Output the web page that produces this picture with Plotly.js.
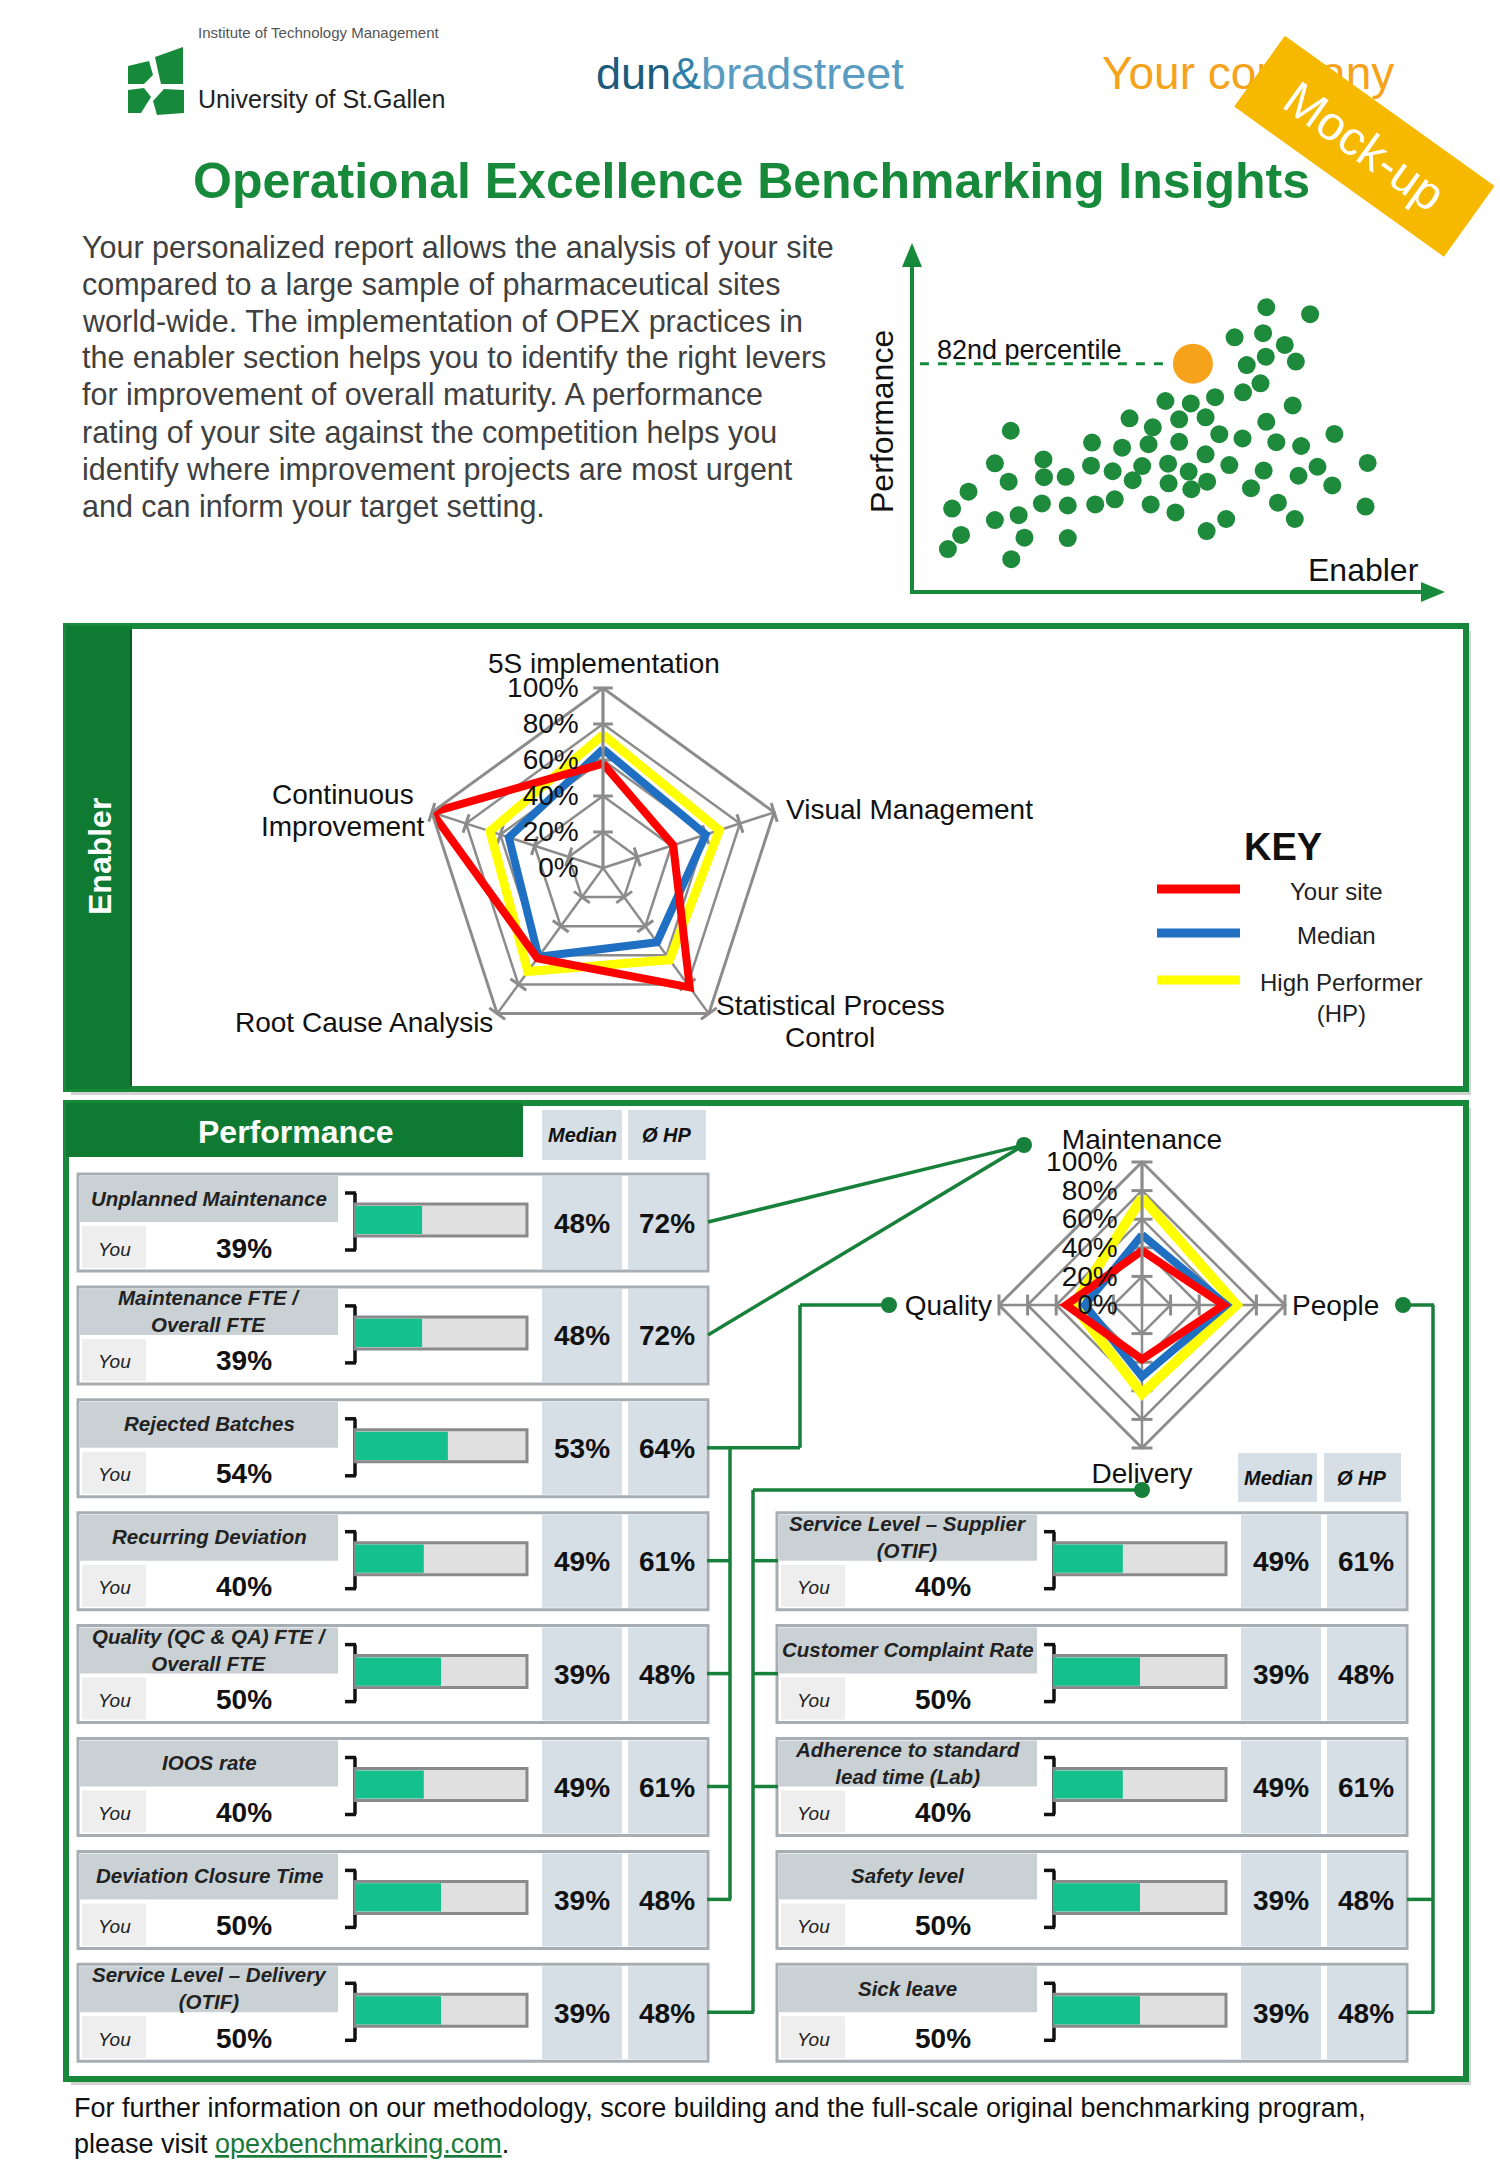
<!DOCTYPE html>
<html><head><meta charset="utf-8">
<script src="https://cdn.plot.ly/plotly-3.0.1.min.js"></script>
<style>html,body{margin:0;padding:0;background:#fff}#chart{width:1500px;height:2167px}</style>
</head><body><div id="chart"></div>
<script>
// ================= DATA =================
const introLines = [
  'Your personalized report allows the analysis of your site',
  'compared to a large sample of pharmaceutical sites',
  'world-wide. The implementation of OPEX practices in',
  'the enabler section helps you to identify the right levers',
  'for improvement of overall maturity. A performance',
  'rating of your site against the competition helps you',
  'identify where improvement projects are most urgent',
  'and can inform your target setting.'
];
// scatter: sites (enabler score vs performance score, 0-100)
const enablerScore = [67.1,75.4,61.1,66.5,70.6,63.4,67.0,72.7,62.7,66.0,48.0,52.8,57.4,72.1,41.2,50.6,55.6,45.6,67.1,18.7,80.0,34.1,39.8,44.8,50.6,58.2,62.6,69.0,73.7,15.7,24.9,55.6,33.9,43.6,48.5,60.1,76.8,86.3,18.3,25.0,29.1,38.0,41.8,52.4,66.6,73.2,10.7,48.6,55.9,52.9,64.2,79.6,7.6,24.6,29.5,34.7,38.4,45.2,69.3,85.9,15.7,20.2,49.9,59.5,72.5,9.3,21.3,29.5,55.8,6.8,18.8];
const performanceScore = [82.3,80.3,73.6,74.8,71.4,65.6,68.0,66.6,57.7,60.3,55.2,54.5,56.3,53.9,50.2,49.9,50.5,47.6,49.2,46.6,45.7,43.2,41.7,42.7,43.4,45.6,44.4,43.3,42.2,37.2,38.3,39.8,36.5,36.4,37.1,36.7,36.2,37.3,31.9,33.2,33.3,34.9,32.3,34.8,35.1,33.6,29.0,31.4,31.9,29.7,30.0,30.8,24.1,25.6,25.0,25.3,26.8,25.3,25.8,24.7,20.8,22.2,23.0,21.1,21.1,16.5,15.7,15.6,17.6,12.4,9.5];
const yourSiteEnabler = [53.2];
const yourSitePerformance = [66.0];
const percentileLabel = '82nd percentile';

// enabler radar
const enablerCategories = ['5S implementation','Visual Management','Statistical Process<br>Control','Root Cause Analysis','Continuous<br>Improvement'];
const enablerYourSite = [58, 41, 82, 62, 100];
const enablerMedian = [66, 60, 51, 61, 55];
const enablerHighPerformer = [74, 68, 63, 71, 66];

// performance radar
const perfCategories = ['Maintenance','People','Delivery','Quality'];
const perfYourSite = [38, 57, 38, 53];
const perfMedian = [49, 59, 50, 40];
const perfHighPerformer = [75, 66, 62, 48];

const radialTickVals = [0, 20, 40, 60, 80, 100];
const radialTickText = ['0%','20%','40%','60%','80%','100%'];
const seriesNames = ['Your site','Median','High Performer<br>(HP)'];

// KPI tables
const leftKpis = ['Unplanned Maintenance','Maintenance FTE /<br>Overall FTE','Rejected Batches','Recurring Deviation','Quality (QC & QA) FTE /<br>Overall FTE','IOOS rate','Deviation Closure Time','Service Level – Delivery<br>(OTIF)'];
const leftYou    = [39, 39, 54, 40, 50, 40, 50, 50];
const leftMedian = [48, 48, 53, 49, 39, 49, 39, 39];
const leftHP     = [72, 72, 64, 61, 48, 61, 48, 48];
const rightKpis = ['Service Level – Supplier<br>(OTIF)','Customer Complaint Rate','Adherence to standard<br>lead time (Lab)','Safety level','Sick leave'];
const rightYou    = [40, 50, 40, 50, 50];
const rightMedian = [49, 39, 49, 39, 39];
const rightHP     = [61, 48, 61, 48, 48];

// ================= STYLE / LAYOUT HELPERS =================
const W = 1500, H = 2167;
const X = p => p / W, Y = p => 1 - p / H;
const FONT = 'Liberation Sans, Arial, sans-serif';
const GREEN = '#168a3a', DGREEN = '#0f7a32', CONN = '#17803a';
const RED = '#ff0000', BLUE = '#1f6fc2', YEL = '#ffff00';
const GRID = '#8c8c8c';
const shapes = [], annotations = [];

function rect(x0,y0,x1,y1,fill,lc,lw,layer){
  shapes.push({type:'rect',xref:'paper',yref:'paper',x0:X(x0),x1:X(x1),y0:Y(y1),y1:Y(y0),
    fillcolor:fill||'rgba(0,0,0,0)',line:{color:lc||'rgba(0,0,0,0)',width:lw||0},layer:layer||'below'});
}
function line(x0,y0,x1,y1,c,w,dash,layer){
  shapes.push({type:'line',xref:'paper',yref:'paper',x0:X(x0),x1:X(x1),y0:Y(y0),y1:Y(y1),
    line:{color:c,width:w,dash:dash||'solid'},layer:layer||'below'});
}
function dot(cx,cy,r,c){
  shapes.push({type:'circle',xref:'paper',yref:'paper',x0:X(cx-r),x1:X(cx+r),y0:Y(cy+r),y1:Y(cy-r),
    fillcolor:c,line:{width:0},layer:'above'});
}
function poly(pts,fill,layer){
  let d = pts.map((p,i)=>(i?'L':'M')+X(p[0]).toFixed(5)+','+Y(p[1]).toFixed(5)).join(' ')+' Z';
  shapes.push({type:'path',xref:'paper',yref:'paper',path:d,fillcolor:fill,line:{width:0},layer:layer||'below'});
}
function txt(t,x,y,size,o){
  o = o||{};
  annotations.push(Object.assign({text:t,xref:'paper',yref:'paper',x:X(x),y:Y(y),showarrow:false,
    xanchor:o.xa||'center',yanchor:o.ya||'middle',align:o.align||'center',textangle:o.angle||0,
    font:{family:o.family||FONT,size:size,color:o.color||'#111'}}, o.extra||{}));
}

// ================= HEADER =================
poly([[128,66],[149,61],[153,75],[144,84],[128,84]], GREEN);
poly([[155,57],[183,47],[183,84],[161,84],[158,71]], GREEN);
poly([[128,90],[144,88],[151,97],[141,113],[128,113]], GREEN);
poly([[153,101],[164,89],[184,90],[184,113],[157,115]], GREEN);
txt('Institute of Technology Management',196,32,15,{xa:'left',color:'#555'});
txt('University of St.Gallen',196,99,25,{xa:'left',color:'#222'});
txt('<span style="color:#1d5b7d">dun</span><span style="color:#2f7fa8">&</span><span style="color:#5a9cbf">bradstreet</span>',750,73,45);
txt('Your company',1100,73,46,{xa:'left',color:'#f5a31a'});
annotations.push({text:'Mock-up',xref:'paper',yref:'paper',x:X(1364),y:Y(146),showarrow:false,
  xanchor:'center',yanchor:'middle',textangle:35.6,bgcolor:'#f7b900',width:255,height:84,
  font:{family:FONT,size:48,color:'#fff'}});
txt('<b>Operational Excellence Benchmarking Insights</b>',751,181,50,{color:GREEN});
introLines.forEach((l,i)=>txt(l,80,247+i*37,30.5,{xa:'left',color:'#404040'}));

// scatter axes arrows
line(912,592,912,262,GREEN,4);
poly([[912,243],[902,267],[922,267]],GREEN);
line(910,592,1424,592,GREEN,4);
poly([[1445,592],[1421,582],[1421,602]],GREEN);
txt('Performance',882,422,32,{angle:-90});
txt('Enabler',1363,570,32);
shapes.push({type:'line',xref:'x',yref:'y',x0:1.5,x1:yourSiteEnabler[0]-4,y0:yourSitePerformance[0],y1:yourSitePerformance[0],
  line:{color:GREEN,width:3,dash:'dash'},layer:'below'});
annotations.push({text:percentileLabel,xref:'x',yref:'y',x:4.4,y:yourSitePerformance[0]+4,xanchor:'left',yanchor:'middle',
  showarrow:false,font:{family:FONT,size:27,color:'#111'}});

// ================= ENABLER BOX =================
rect(71,631,1471,1095,'#d2d2d2');
rect(66,626,1466,1089,'#fff',GREEN,6);
rect(66,626,132,1089,DGREEN);
line(131,630,131,1085,'#0b5a24',2);
txt('<b>Enabler</b>',100,857,32,{angle:-90,color:'#fff'});
txt('<b>KEY</b>',1283,847,38);
const keyColors = [RED,BLUE,YEL];
const keyY = [889,933,980];
keyColors.forEach((c,i)=>{ line(1157,keyY[i],1240,keyY[i],c,9); });
txt(seriesNames[0],1336,892,24,{color:'#222'});
txt(seriesNames[1],1336,935,24,{color:'#222'});
txt(seriesNames[2],1341,998,24,{color:'#222'});

// enabler angular labels (placement only; text comes from the categories)
const enablerLabelPos = [
  {x:604,y:663,xa:'center'},
  {x:784,y:810,xa:'left'},
  {x:830,y:1006,xa:'center'},
  {x:495,y:1023,xa:'right'},
  {x:343,y:795,xa:'center'}
];
enablerCategories.forEach((c,i)=>{
  const p = enablerLabelPos[i];
  c.split('<br>').forEach((part,j)=>txt(part,p.x,p.y+j*31,28,{xa:p.xa}));
});

// ================= PERFORMANCE BOX =================
rect(71,1108,1471,2085,'#d2d2d2');
rect(66,1103,1466,2079,'#fff',GREEN,6);
rect(66,1103,523,1157,DGREEN);
txt('<b>Performance</b>',296,1132,32,{color:'#fff'});
const HBOX = '#d5dfe5';
rect(542,1110,622,1160,HBOX); rect(628,1110,706,1160,HBOX);
txt('<b><i>Median</i></b>',582,1135,20); txt('<b><i>Ø HP</i></b>',667,1135,20);
rect(1238,1453,1317,1502,HBOX); rect(1324,1453,1401,1502,HBOX);
txt('<b><i>Median</i></b>',1278,1478,20); txt('<b><i>Ø HP</i></b>',1362,1478,20);

const ROW0 = 1174, PITCH = 112.9, BARC = 46;
const rowTop = i => ROW0 + i*PITCH;
function rowFrame(top, x0){
  rect(x0, top, x0+630, top+97, '#fff', '#a6aeb3', 3);
  rect(x0+2, top+2, x0+260, top+48, '#c9d1d5');
  rect(x0+4, top+52, x0+68, top+94, '#eeeeee');
  rect(x0+464, top+2, x0+544, top+95, HBOX);
  rect(x0+550, top+2, x0+628, top+95, HBOX);
  const bx = x0+277;
  line(bx, top+19, bx, top+76, '#111', 3.5);
  line(bx-10, top+19, bx+1, top+19, '#111', 3.5);
  line(bx-10, top+76, bx+1, top+76, '#111', 3.5);
  rect(bx, top+BARC-16, bx+172, top+BARC+16, '#e0e0e0', '#8a8a8a', 3);
}
leftKpis.forEach((k,i)=>rowFrame(rowTop(i),78));
rightKpis.forEach((k,i)=>rowFrame(rowTop(i+3),777));

function rowTexts(cats, you, med, hp, yref, x0){
  cats.forEach((c,i)=>{
    const base = {xref:'paper',yref:yref,y:c,showarrow:false,xanchor:'center',yanchor:'middle',align:'center'};
    annotations.push(Object.assign({},base,{x:X(x0+131),text:'<b><i>'+c+'</i></b>',yshift:22,font:{family:FONT,size:20.5,color:'#222'}}));
    annotations.push(Object.assign({},base,{x:X(x0+36),text:'<i>You</i>',yshift:-29,font:{family:FONT,size:19,color:'#222'}}));
    annotations.push(Object.assign({},base,{x:X(x0+166),text:'<b>'+you[i]+'%</b>',yshift:-28,font:{family:FONT,size:28,color:'#111'}}));
    annotations.push(Object.assign({},base,{x:X(x0+504),text:'<b>'+med[i]+'%</b>',yshift:-3,font:{family:FONT,size:28,color:'#111'}}));
    annotations.push(Object.assign({},base,{x:X(x0+589),text:'<b>'+hp[i]+'%</b>',yshift:-3,font:{family:FONT,size:28,color:'#111'}}));
  });
}
rowTexts(leftKpis,leftYou,leftMedian,leftHP,'y2',78);
rowTexts(rightKpis,rightYou,rightMedian,rightHP,'y3',777);

// connectors
const stubY = i => rowTop(i)+48;
line(708,stubY(0),1024,1145,CONN,3.5); line(708,stubY(1),1024,1145,CONN,3.5); dot(1024,1145,8,CONN);
[2,3,4,5,6].forEach(i=>line(707,stubY(i),731,stubY(i),CONN,3.5));
line(730,stubY(2),730,stubY(6),CONN,3.5);
line(730,stubY(2),800,stubY(2),CONN,3.5); line(800,stubY(2),800,1305,CONN,3.5); line(800,1305,889,1305,CONN,3.5);
dot(889,1305,8,CONN);
line(753,1490,753,stubY(7),CONN,3.5); line(707,stubY(7),754,stubY(7),CONN,3.5);
[3,4,5].forEach(i=>line(752,stubY(i),778,stubY(i),CONN,3.5));
line(753,1490,1142,1490,CONN,3.5); dot(1142,1490,8,CONN);
line(1403,1305,1434,1305,CONN,3.5); line(1433,1305,1433,stubY(7),CONN,3.5);
[6,7].forEach(i=>line(1407,stubY(i),1434,stubY(i),CONN,3.5));
dot(1403,1305,8,CONN);

// footer
txt('For further information on our methodology, score building and the full-scale original benchmarking program,',72,2108,27,{xa:'left'});
txt('please visit <span style="color:#1a7a3a"><u>opexbenchmarking.com</u></span>.',72,2144,27,{xa:'left'});

// ================= TRACES =================
const close = a => a.concat([a[0]]);
// perpendicular tick marks on every spoke, at the radial tick values
function spokeTicks(subplot, cats, size){
  return cats.map((c,i)=>({type:'scatterpolar',subplot:subplot,mode:'markers',cliponaxis:false,
    r:radialTickVals.slice(1),theta:radialTickVals.slice(1).map(()=>c),hoverinfo:'skip',
    marker:{symbol:'line-ew-open',size:size,angle:i*360/cats.length,color:GRID,line:{color:GRID,width:3}}}));
}
const traces = [
  {type:'scatter',mode:'markers',x:enablerScore,y:performanceScore,xaxis:'x',yaxis:'y',
   marker:{color:'#1e8a3c',size:18},hoverinfo:'skip'},
  {type:'scatter',mode:'markers',x:yourSiteEnabler,y:yourSitePerformance,xaxis:'x',yaxis:'y',
   marker:{color:'#f7a21b',size:40},hoverinfo:'skip'},
  ...spokeTicks('polar',enablerCategories,14),
  {type:'scatterpolar',subplot:'polar',r:close(enablerHighPerformer),theta:close(enablerCategories),mode:'lines',line:{color:YEL,width:9},hoverinfo:'skip'},
  {type:'scatterpolar',subplot:'polar',r:close(enablerMedian),theta:close(enablerCategories),mode:'lines',line:{color:BLUE,width:8},hoverinfo:'skip'},
  {type:'scatterpolar',subplot:'polar',r:close(enablerYourSite),theta:close(enablerCategories),mode:'lines',line:{color:RED,width:8},hoverinfo:'skip'},
  ...spokeTicks('polar2',perfCategories,15),
  {type:'scatterpolar',subplot:'polar2',r:close(perfHighPerformer),theta:close(perfCategories),mode:'lines',line:{color:YEL,width:10},hoverinfo:'skip'},
  {type:'scatterpolar',subplot:'polar2',r:close(perfMedian),theta:close(perfCategories),mode:'lines',line:{color:BLUE,width:8},hoverinfo:'skip'},
  {type:'scatterpolar',subplot:'polar2',r:close(perfYourSite),theta:close(perfCategories),mode:'lines',line:{color:RED,width:8},hoverinfo:'skip'},
  {type:'bar',orientation:'h',x:leftYou,y:leftKpis,xaxis:'x2',yaxis:'y2',width:0.25,marker:{color:'#14c08c'},hoverinfo:'skip'},
  {type:'bar',orientation:'h',x:rightYou,y:rightKpis,xaxis:'x3',yaxis:'y3',width:0.25,marker:{color:'#14c08c'},hoverinfo:'skip'}
];

function polarCfg(cx,cy,r,showAngLabels){
  return {
    domain:{x:[X(cx-r),X(cx+r)],y:[Y(cy+r),Y(cy-r)]},
    bgcolor:'rgba(0,0,0,0)', gridshape:'linear',
    radialaxis:{range:[0,100],tickvals:radialTickVals,ticktext:radialTickText,angle:90,side:'counterclockwise',
      tickangle:90,showline:true,linecolor:GRID,linewidth:3,gridcolor:GRID,gridwidth:2.5,
      ticks:'outside',ticklen:13,tickwidth:3,tickcolor:'rgba(0,0,0,0)',tickfont:{family:FONT,size:28,color:'#111'}},
    angularaxis:{direction:'clockwise',rotation:90,showline:true,linecolor:GRID,linewidth:3,
      gridcolor:GRID,gridwidth:2.5,ticks:'',showticklabels:showAngLabels,tickfont:{family:FONT,size:28,color:'#111'}}
  };
}
const LEFT_TOP = ROW0 + BARC - PITCH/2;
const layout = {
  width:W,height:H,margin:{l:0,r:0,t:0,b:0},paper_bgcolor:'#fff',plot_bgcolor:'rgba(0,0,0,0)',
  showlegend:false,barmode:'overlay',font:{family:FONT},
  xaxis:{domain:[X(912),X(1440)],range:[0,100],visible:false,anchor:'y'},
  yaxis:{domain:[Y(592),Y(246)],range:[0,100],visible:false,anchor:'x'},
  xaxis2:{domain:[X(355),X(527)],range:[0,100],visible:false,anchor:'y2'},
  yaxis2:{domain:[Y(LEFT_TOP+8*PITCH),Y(LEFT_TOP)],type:'category',categoryorder:'array',categoryarray:leftKpis,range:[7.5,-0.5],visible:false,anchor:'x2'},
  xaxis3:{domain:[X(1054),X(1226)],range:[0,100],visible:false,anchor:'y3'},
  yaxis3:{domain:[Y(LEFT_TOP+8*PITCH),Y(LEFT_TOP+3*PITCH)],type:'category',categoryorder:'array',categoryarray:rightKpis,range:[4.5,-0.5],visible:false,anchor:'x3'},
  polar:polarCfg(603,868,180,false),
  polar2:polarCfg(1142,1305,143,true),
  shapes:shapes,annotations:annotations
};
Plotly.newPlot('chart',traces,layout,{displayModeBar:false,staticPlot:true});
</script></body></html>
